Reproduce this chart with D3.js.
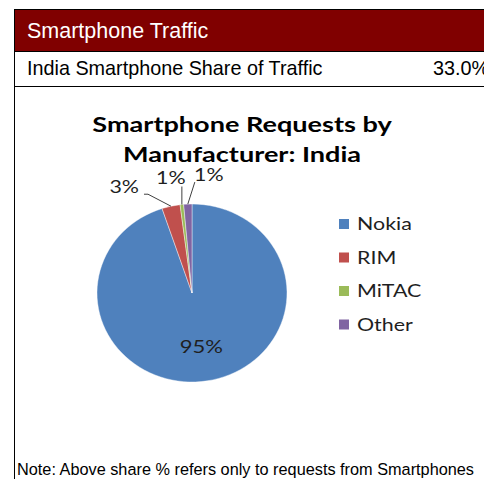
<!DOCTYPE html>
<html><head><meta charset="utf-8">
<script src="https://cdn.jsdelivr.net/npm/d3@7"></script>
<style>
html,body{margin:0;padding:0;background:#fff;}
svg{display:block;}
</style></head>
<body>
<svg id="c" width="484" height="479"></svg>
<script>
const categories = ["Nokia", "RIM", "MiTAC", "Other"];
const shares = [94.9, 3.1, 0.6, 1.4];
const colors = ["#4F81BD", "#C0504D", "#9BBB59", "#8064A2"];
const headerTitle = "Smartphone Traffic";
const rowLabel = "India Smartphone Share of Traffic";
const rowValue = "33.0%";
const chartTitle = ["Smartphone Requests by", "Manufacturer: India"];
const note = "Note: Above share % refers only to requests from Smartphones";

const svg = d3.select("#c");
const tableFont = "'Liberation Sans', Arial, sans-serif";
const chartFont = "Lato, Carlito, Calibri, sans-serif";
const SX = 1.26; // horizontal stretch of the chart's text

// stretched chart text
function ctext(parent, x, y, str, size, opts = {}) {
  return parent.append("text")
    .attr("transform", `translate(${x},${y}) scale(${SX},1)`)
    .attr("text-anchor", opts.anchor || "start")
    .attr("font-family", chartFont)
    .attr("font-weight", opts.bold ? "bold" : "normal")
    .attr("font-size", size)
    .attr("fill", opts.fill || "#1f1f1f")
    .text(str);
}

// table
svg.append("rect").attr("x", 14).attr("y", 9).attr("width", 480).attr("height", 42).attr("fill", "#800000");
svg.append("text").attr("x", 27).attr("y", 38).attr("fill", "#fff")
  .attr("font-family", tableFont).attr("font-size", 21.5).text(headerTitle);
svg.append("line").attr("x1", 14).attr("x2", 484).attr("y1", 9.5).attr("y2", 9.5).attr("stroke", "#000");
svg.append("line").attr("x1", 14).attr("x2", 484).attr("y1", 51.5).attr("y2", 51.5).attr("stroke", "#000");
svg.append("line").attr("x1", 14).attr("x2", 484).attr("y1", 86.5).attr("y2", 86.5).attr("stroke", "#000");
svg.append("line").attr("x1", 14.5).attr("x2", 14.5).attr("y1", 9).attr("y2", 479).attr("stroke", "#000");
svg.append("text").attr("x", 27).attr("y", 75).attr("fill", "#000")
  .attr("font-family", tableFont).attr("font-size", 19.8).text(rowLabel);
svg.append("text").attr("x", 433).attr("y", 75).attr("fill", "#000")
  .attr("font-family", tableFont).attr("font-size", 19.8).text(rowValue);
svg.append("text").attr("x", 17).attr("y", 475).attr("fill", "#000")
  .attr("font-family", tableFont).attr("font-size", 16.3).text(note);

// chart title
chartTitle.forEach((t, i) => ctext(svg, 242, 132 + i * 30, t, 21.5, { anchor: "middle", bold: true, fill: "#000" }));

// pie
const cx = 192, cy = 293, rx = 95, ry = 89;
const data = categories.map((c, i) => ({ name: c, value: shares[i], color: colors[i] }));
const pie = d3.pie().value(d => d.value).sort(null);
const arcs = pie(data);
const arc = d3.arc().innerRadius(0).outerRadius(ry);
const g = svg.append("g").attr("transform", `translate(${cx},${cy}) scale(${rx / ry},1)`);
g.selectAll("path").data(arcs).join("path")
  .attr("d", arc).attr("fill", d => d.data.color)
  .attr("stroke", "#fff").attr("stroke-width", 0.4);

const total = d3.sum(shares);
const pct = v => Math.round(v / total * 100) + "%";
const edge = (a, k = 1) => [cx + rx * k * Math.sin(a), cy - ry * k * Math.cos(a)];

// big label inside Nokia
const mid0 = (arcs[0].startAngle + arcs[0].endAngle) / 2;
const p0 = edge(mid0, 0.62);
ctext(svg, p0[0], p0[1] + 6, pct(shares[0]), 17.5, { anchor: "middle" });

// outside labels with leaders (offsets from edge point)
const outside = [
  { i: 1, pts: [[-23, -12], [-27, -12]], tx: -32, ty: -13, anchor: "end" },
  { i: 2, pts: [[0, -18]], tx: -11, ty: -21, anchor: "middle" },
  { i: 3, pts: [[7, -22]], tx: 21, ty: -23, anchor: "middle" }
];
outside.forEach(o => {
  const a = arcs[o.i];
  const m = (a.startAngle + a.endAngle) / 2;
  const e = edge(m);
  const line = [e].concat(o.pts.map(p => [e[0] + p[0], e[1] + p[1]]));
  svg.append("path").attr("d", d3.line()(line)).attr("fill", "none")
    .attr("stroke", "#404040").attr("stroke-width", 1);
  ctext(svg, e[0] + o.tx, e[1] + o.ty, pct(shares[o.i]), 17, { anchor: o.anchor });
});

// legend
const leg = svg.selectAll("g.leg").data(data).join("g").attr("class", "leg")
  .attr("transform", (d, i) => `translate(339, ${224 + i * 33.5})`);
leg.append("rect").attr("x", 0).attr("y", -5).attr("width", 10).attr("height", 10).attr("fill", d => d.color);
leg.each(function (d) { ctext(d3.select(this), 18, 6, d.name, 17); });
</script>
</body></html>
